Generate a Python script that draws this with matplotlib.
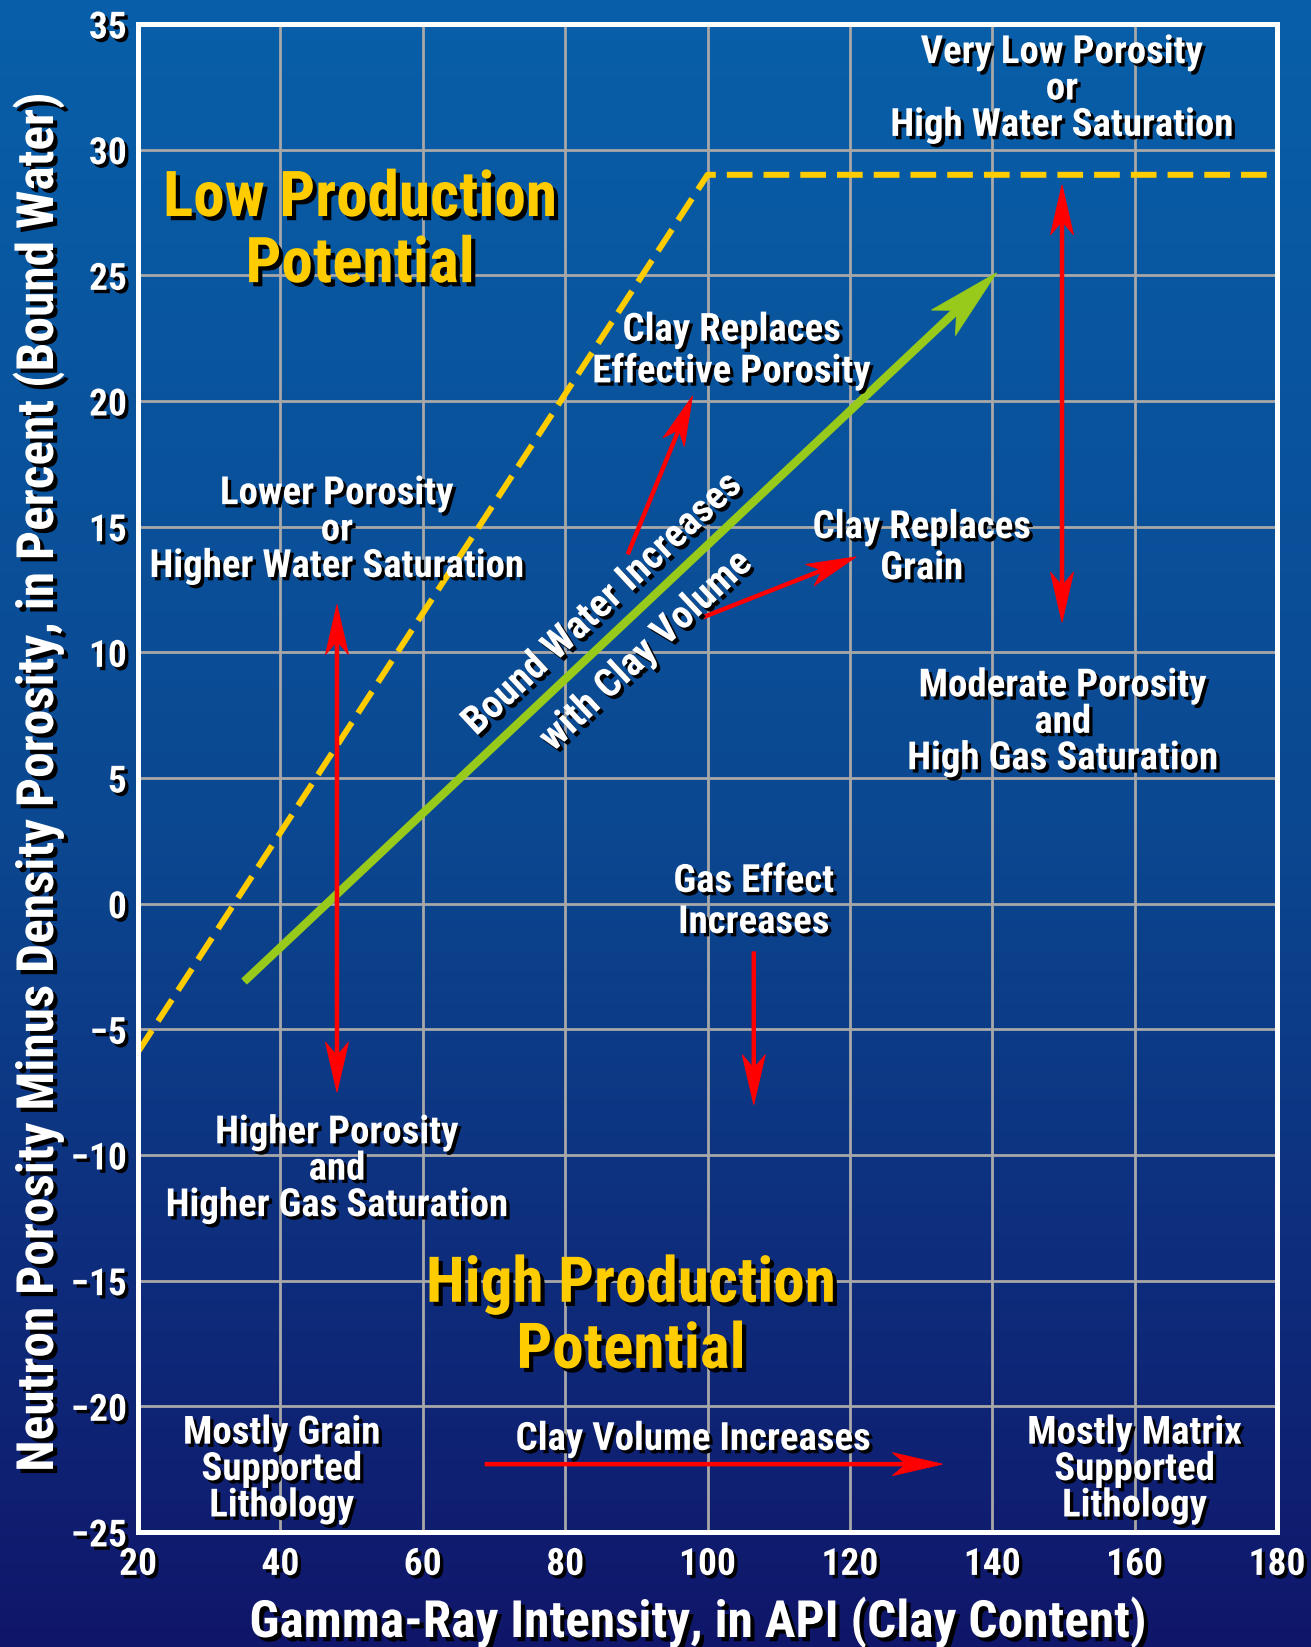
import numpy as np
import matplotlib
matplotlib.use("Agg")
import matplotlib.pyplot as plt
from matplotlib import font_manager as fm
from matplotlib import patheffects as pe
from matplotlib.patches import FancyArrowPatch, ArrowStyle
from matplotlib.colors import LinearSegmentedColormap
from matplotlib.path import Path

# ---------------- data ----------------
x_ticks = [20, 40, 60, 80, 100, 120, 140, 160, 180]
y_ticks = [-25, -20, -15, -10, -5, 0, 5, 10, 15, 20, 25, 30, 35]
x_label = "Gamma-Ray Intensity, in API (Clay Content)"
y_label = "Neutron Porosity Minus Density Porosity, in Percent (Bound Water)"

# yellow production cut-off (dashed)
cutoff_x = [20, 100, 180]
cutoff_y = [-5.9, 29, 29]

# green bound-water trend arrow
trend_x = [34.9, 140.6]
trend_y = [-3.1, 25.1]

# red single-headed arrows: (x0, y0, x1, y1)
red_single = [
    (88.8, 13.9, 97.9, 20.2),      # clay replaces effective porosity
    (99.4, 11.4, 120.9, 13.8),     # clay replaces grain
    (106.5, -1.9, 106.5, -8.0),    # gas effect increases
    (68.7, -22.3, 133.0, -22.3),   # clay volume increases
]
# red double-headed arrows
red_double = [
    (47.95, 11.9, 47.95, -7.5),
    (149.8, 28.6, 149.8, 11.2),
]

# annotation texts: (text, x, y_top, linespacing)
white_texts = [
    ("Very Low Porosity\nor\nHigh Water Saturation", 149.8, 34.6, 0.98),
    ("Clay Replaces\nEffective Porosity", 103.4, 23.55, 1.14),
    ("Lower Porosity\nor\nHigher Water Saturation", 47.95, 17.05, 0.98),
    ("Clay Replaces\nGrain", 130.1, 15.7, 1.14),
    ("Moderate Porosity\nand\nHigh Gas Saturation", 149.9, 9.4, 0.98),
    ("Gas Effect\nIncreases", 106.5, 1.62, 1.14),
    ("Higher Porosity\nand\nHigher Gas Saturation", 47.95, -8.38, 0.98),
    ("Mostly Grain\nSupported\nLithology", 40.2, -20.33, 0.98),
    ("Clay Volume Increases", 98.0, -20.58, 0.98),
    ("Mostly Matrix\nSupported\nLithology", 160.0, -20.33, 0.98),
]
yellow_texts = [
    ("Low Production\nPotential", 51.2, 29.23),
    ("High Production\nPotential", 89.25, -13.97),
]
rotated_text = ("Bound Water Increases\nwith Clay Volume", 88.3, 11.0, 43)

# ---------------- style ----------------
names = {f.name for f in fm.fontManager.ttflist}
FONT = "DejaVu Sans"
for cand in ["Liberation Sans Narrow", "Roboto Condensed", "Open Sans Condensed",
             "DejaVu Sans Condensed", "Liberation Sans", "DejaVu Sans"]:
    if cand in names:
        FONT = cand
        break

WHITE = "white"
YELLOW = "#FFCC00"
RED = "#FF0000"
GREEN = "#97CA1A"
GRID = "#A8A8A8"

shadow_small = [pe.SimplePatchShadow(offset=(2.4, -2.4), shadow_rgbFace="black", alpha=1.0), pe.Normal()]
shadow_big = [pe.SimplePatchShadow(offset=(3.0, -3.0), shadow_rgbFace="black", alpha=1.0), pe.Normal()]


class _StealthMixin:
    notch = 0.27

    def _get_arrow_wedge(self, x0, y0, x1, y1, head_dist, cos_t, sin_t, linewidth):
        v, c, ddx, ddy = super()._get_arrow_wedge(x0, y0, x1, y1, head_dist, cos_t, sin_t, linewidth)
        (ax_, ay_), (tx, ty), (bx, by) = v
        ax_, ay_, bx, by = ax_ - ddx, ay_ - ddy, bx - ddx, by - ddy
        tx, ty = x1, y1
        mx, my = (ax_ + bx) / 2, (ay_ + by) / 2
        nx, ny = mx + (tx - mx) * self.notch, my + (ty - my) * self.notch
        return ([(ax_, ay_), (tx, ty), (bx, by), (nx, ny)],
                [Path.MOVETO, Path.LINETO, Path.LINETO, Path.LINETO], ddx, ddy)


class StealthB(_StealthMixin, ArrowStyle.CurveFilledB):
    pass


class StealthAB(_StealthMixin, ArrowStyle.CurveFilledAB):
    pass


def draw_arrow(ax, p0, p1, color, lw, head_length, head_width, notch, shrink, double=False):
    # shaft
    ax.add_patch(FancyArrowPatch(p0, p1, arrowstyle="-", color=color, linewidth=lw,
                                 capstyle="butt", shrinkA=shrink if double else 0,
                                 shrinkB=shrink, zorder=4))
    # sharp stealth head(s)
    st = (StealthAB if double else StealthB)(head_length=head_length, head_width=head_width)
    st.notch = notch
    ax.add_patch(FancyArrowPatch(p0, p1, arrowstyle=st, mutation_scale=10, color=color,
                                 linewidth=0.6, joinstyle="miter",
                                 shrinkA=0, shrinkB=0, zorder=4))


W, H = 1311, 1647
fig = plt.figure(figsize=(W / 100, H / 100), dpi=100)

# background gradient
bg = fig.add_axes([0, 0, 1, 1], zorder=0)
cmap = LinearSegmentedColormap.from_list(
    "bgblue", [(0.0, "#10166a"), (0.5, "#0b4891"), (1.0, "#085fa9")])
grad = np.linspace(0, 1, 512).reshape(-1, 1)
bg.imshow(grad, aspect="auto", cmap=cmap, origin="lower", extent=[0, 1, 0, 1])
bg.set_axis_off()

ax = fig.add_axes([138 / W, (H - 1532) / H, (1277 - 138) / W, (1532 - 24) / H], zorder=1)
ax.set_facecolor("none")
ax.set_xlim(20, 180)
ax.set_ylim(-25, 35)
ax.set_xticks(x_ticks)
ax.set_yticks(y_ticks)
ax.grid(True, color=GRID, linewidth=2.0, zorder=1)
ax.set_axisbelow(True)
for s in ax.spines.values():
    s.set_color(WHITE)
    s.set_linewidth(3.6)
    s.set_zorder(6)
ax.tick_params(axis="both", length=0, colors=WHITE)
ax.tick_params(axis="x", pad=10)
ax.tick_params(axis="y", pad=8)
for lab in ax.get_xticklabels() + ax.get_yticklabels():
    lab.set_fontfamily(FONT)
    lab.set_fontweight("bold")
    lab.set_fontsize(27)
    lab.set_color(WHITE)
    lab.set_path_effects(shadow_small)

# dashed cut-off line
ax.plot(cutoff_x, cutoff_y, color=YELLOW, linewidth=4.3, linestyle=(0, (4.3, 1.85)),
        solid_capstyle="butt", dash_capstyle="butt", zorder=3)

# green trend arrow
draw_arrow(ax, (trend_x[0], trend_y[0]), (trend_x[1], trend_y[1]), GREEN, 6.0,
           head_length=5.25, head_width=1.26, notch=0.25, shrink=30)

# red arrows
for x0, y0, x1, y1 in red_single:
    draw_arrow(ax, (x0, y0), (x1, y1), RED, 3.2,
               head_length=3.6, head_width=0.83, notch=0.27, shrink=20)
for x0, y0, x1, y1 in red_double:
    draw_arrow(ax, (x0, y0), (x1, y1), RED, 3.2,
               head_length=3.6, head_width=0.83, notch=0.27, shrink=20, double=True)

# white texts
for txt, x, y, ls in white_texts:
    ax.text(x, y, txt, ha="center", va="top", multialignment="center",
            fontfamily=FONT, fontweight="bold", fontsize=28, color=WHITE,
            linespacing=ls, path_effects=shadow_small, zorder=5)

for txt, x, y in yellow_texts:
    ax.text(x, y, txt, ha="center", va="top", multialignment="center",
            fontfamily=FONT, fontweight="bold", fontsize=45.5, color=YELLOW,
            linespacing=1.13, path_effects=shadow_big, zorder=5)

rt, rx, ry, rrot = rotated_text
ax.text(rx, ry, rt, ha="center", va="center", multialignment="center",
        rotation=rrot, rotation_mode="anchor",
        fontfamily=FONT, fontweight="bold", fontsize=28.5, color=WHITE,
        linespacing=1.87, path_effects=shadow_small, zorder=5)

# axis labels
fig.text(698 / W, (H - 1637) / H, x_label, ha="center", va="baseline",
         fontfamily=FONT, fontweight="bold", fontsize=37, color=WHITE,
         path_effects=shadow_big)
fig.text(53 / W, (H - 782) / H, y_label, ha="center", va="baseline",
         rotation=90, rotation_mode="anchor",
         fontfamily=FONT, fontweight="bold", fontsize=37, color=WHITE,
         path_effects=shadow_big)

fig.savefig("out.png", dpi=100)
